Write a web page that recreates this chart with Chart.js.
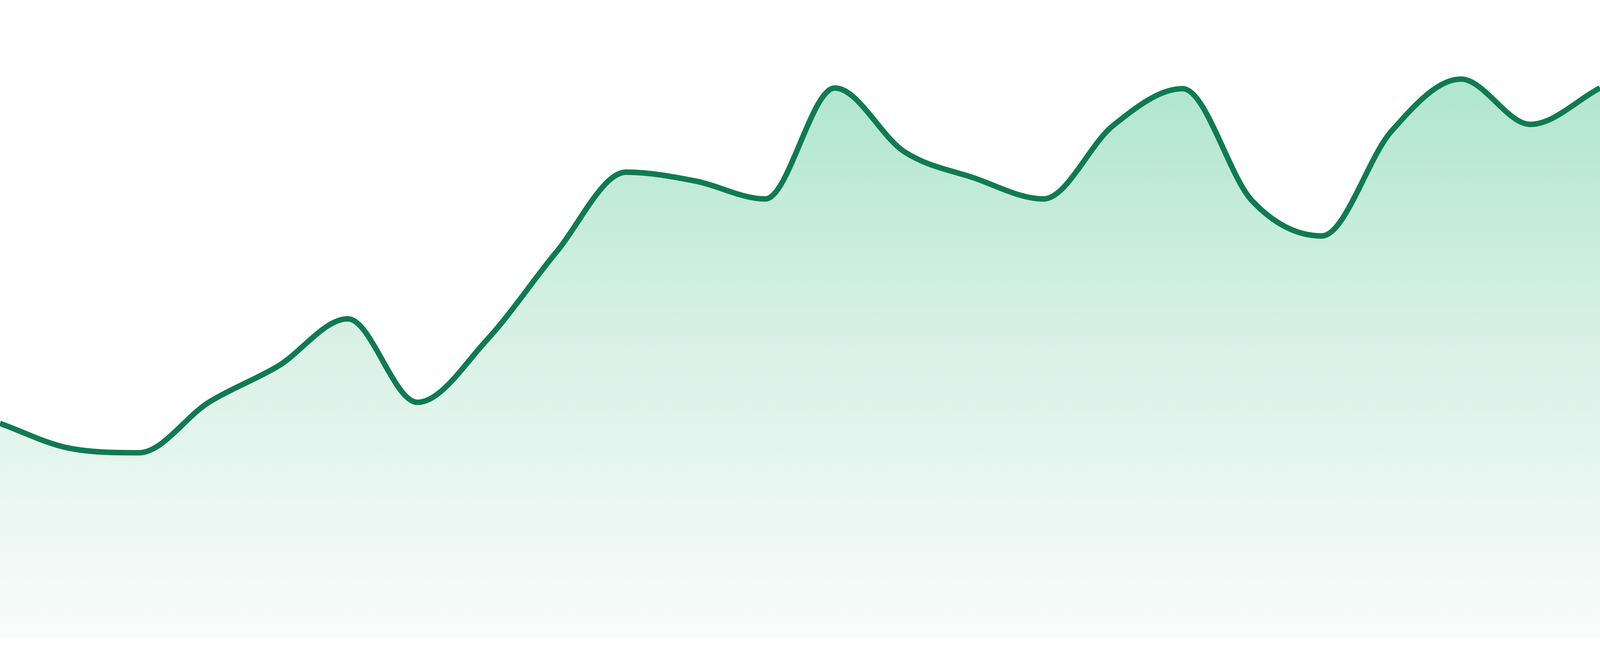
<!DOCTYPE html>
<html>
<head>
<meta charset="utf-8">
<title>Area trend</title>
<script src="https://cdn.jsdelivr.net/npm/chart.js@4.4.1/dist/chart.umd.min.js"></script>
<style>
    html, body { margin: 0; padding: 0; background: #ffffff; overflow: hidden; }
    #wrap { width: 100vw; height: 100vh; position: relative; }
</style>
</head>
<body>
<div id="wrap">
    <canvas id="trend"></canvas>
</div>
<script>
// points, one every ~209px across the full width
const labels = ['1', '2', '3', '4', '5', '6', '7', '8', '9', '10', '11', '12',
    '13', '14', '15', '16', '17', '18', '19', '20', '21', '22', '23', '24'];
const values = [33.6, 29.7, 29.0, 36.9, 42.6, 50.0, 36.9, 46.7, 60.5, 73.0, 71.6, 68.8,
    86.2, 76.2, 72.1, 68.8, 80.3, 86.1, 68.5, 63.0, 79.4, 87.6, 80.5, 86.2];
const yMin = 0;
const yMax = 100;

const lineColor = '#117a52';

// the reference was laid out on a 4800x1680 page; keep sizes relative to that
const kw = window.innerWidth / 4800;
const kh = window.innerHeight / 1680;

function areaFill(context) {
    const { ctx, chartArea } = context.chart;
    if (!chartArea) {
        return 'rgba(176,230,207,0.6)';
    }
    const g = ctx.createLinearGradient(0, chartArea.top, 0, chartArea.bottom);
    g.addColorStop(0, 'rgb(163,226,199)');
    g.addColorStop(0.508, 'rgb(214,240,230)');
    g.addColorStop(1, 'rgb(249,252,251)');
    return g;
}

const chartCtx = document.getElementById('trend').getContext('2d');
new Chart(chartCtx, {
    type: 'line',
    data: {
        labels: labels,
        datasets: [{
            data: values,
            borderColor: lineColor,
            borderWidth: 16.5 * kw,
            backgroundColor: areaFill,
            fill: 'start',
            cubicInterpolationMode: 'monotone',
            pointRadius: 0,
            pointHoverRadius: 0
        }]
    },
    options: {
        responsive: true,
        maintainAspectRatio: false,
        animation: false,
        layout: {
            padding: { top: 0, right: 0, bottom: 47 * kh, left: 0 }
        },
        plugins: {
            legend: { display: false },
            tooltip: { enabled: false }
        },
        scales: {
            x: { display: false, offset: false },
            y: { display: false, min: yMin, max: yMax }
        }
    }
});
</script>
</body>
</html>
